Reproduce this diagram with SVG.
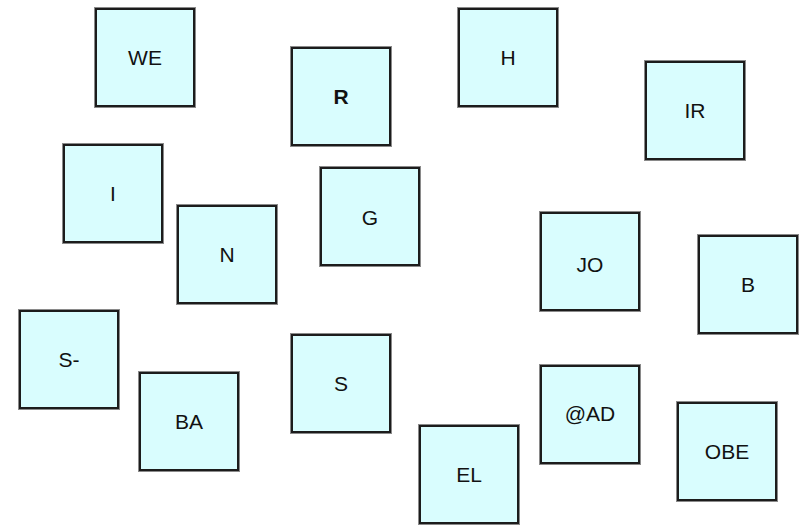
<svg xmlns="http://www.w3.org/2000/svg" width="802" height="525" viewBox="0 0 802 525">
<style>
.box{fill:#d9fdfe;stroke:#1c1c1c;stroke-width:2}
.sh{fill:none;stroke:#8a8a8a;stroke-width:1}
.t{font-family:"Liberation Sans",Arial,sans-serif;font-size:21px;fill:#111;text-anchor:middle}
.b{font-weight:bold}
</style>
<rect width="802" height="525" fill="#ffffff"/>
<g id="connectors"></g>
<g id="WE"><rect class="sh" x="94.5" y="7.5" width="101" height="100"/><rect class="box" x="96" y="9" width="98" height="97"/><text class="t" x="145" y="65">WE</text></g>
<g id="R"><rect class="sh" x="290.5" y="46.5" width="101" height="100"/><rect class="box" x="292" y="48" width="98" height="97"/><text class="t b" x="341" y="104">R</text></g>
<g id="H"><rect class="sh" x="457.5" y="7.5" width="101" height="100"/><rect class="box" x="459" y="9" width="98" height="97"/><text class="t" x="508" y="65">H</text></g>
<g id="IR"><rect class="sh" x="644.5" y="60.5" width="101" height="100"/><rect class="box" x="646" y="62" width="98" height="97"/><text class="t" x="695" y="118">IR</text></g>
<g id="I"><rect class="sh" x="62.5" y="143.5" width="101" height="100"/><rect class="box" x="64" y="145" width="98" height="97"/><text class="t" x="113" y="201">I</text></g>
<g id="N"><rect class="sh" x="176.5" y="204.5" width="101" height="100"/><rect class="box" x="178" y="206" width="98" height="97"/><text class="t" x="227" y="262">N</text></g>
<g id="G"><rect class="sh" x="319.5" y="166.5" width="101" height="100"/><rect class="box" x="321" y="168" width="98" height="97"/><text class="t" x="370" y="225">G</text></g>
<g id="JO"><rect class="sh" x="539.5" y="211.5" width="101" height="100"/><rect class="box" x="541" y="213" width="98" height="97"/><text class="t" x="590" y="272">JO</text></g>
<g id="B"><rect class="sh" x="697.5" y="234.5" width="101" height="100"/><rect class="box" x="699" y="236" width="98" height="97"/><text class="t" x="748" y="292">B</text></g>
<g id="S-"><rect class="sh" x="18.5" y="309.5" width="101" height="100"/><rect class="box" x="20" y="311" width="98" height="97"/><text class="t" x="69" y="367">S-</text></g>
<g id="BA"><rect class="sh" x="138.5" y="371.5" width="101" height="100"/><rect class="box" x="140" y="373" width="98" height="97"/><text class="t" x="189" y="429">BA</text></g>
<g id="S"><rect class="sh" x="290.5" y="333.5" width="101" height="100"/><rect class="box" x="292" y="335" width="98" height="97"/><text class="t" x="341" y="391">S</text></g>
<g id="AD"><rect class="sh" x="539.5" y="364.5" width="101" height="100"/><rect class="box" x="541" y="366" width="98" height="97"/><text class="t" x="590" y="421">@AD</text></g>
<g id="OBE"><rect class="sh" x="676.5" y="401.5" width="101" height="100"/><rect class="box" x="678" y="403" width="98" height="97"/><text class="t" x="727" y="459">OBE</text></g>
<g id="EL"><rect class="sh" x="418.5" y="424.5" width="101" height="100"/><rect class="box" x="420" y="426" width="98" height="97"/><text class="t" x="469" y="482">EL</text></g>
</svg>
